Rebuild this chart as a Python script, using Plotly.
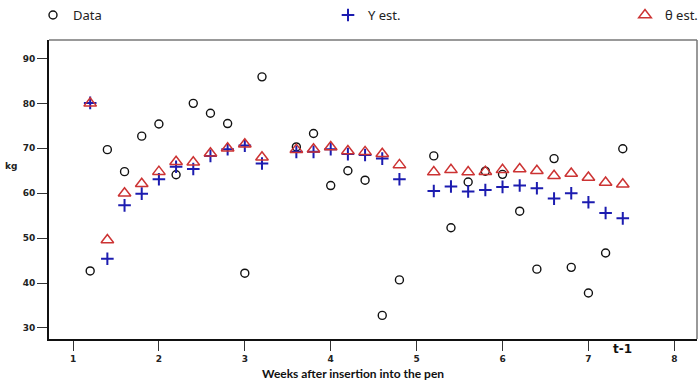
import plotly.graph_objects as go

weeks = [1.2, 1.4, 1.6, 1.8, 2.0, 2.2, 2.4, 2.6, 2.8, 3.0, 3.2,
         3.6, 3.8, 4.0, 4.2, 4.4, 4.6, 4.8,
         5.2, 5.4, 5.6, 5.8, 6.0, 6.2, 6.4, 6.6, 6.8, 7.0, 7.2, 7.4]

data_kg = [42.7, 69.7, 64.8, 72.7, 75.4, 64.1, 80.0, 77.8, 75.5, 42.2, 85.9,
           70.3, 73.3, 61.7, 65.0, 62.9, 32.8, 40.7,
           68.3, 52.3, 62.5, 64.9, 64.2, 56.0, 43.1, 67.7, 43.5, 37.8, 46.7, 69.9]

y_est = [80.1, 45.4, 57.3, 59.9, 63.1, 65.9, 65.4, 68.3, 69.8, 70.6, 66.6,
         69.2, 69.2, 69.8, 68.7, 68.5, 67.7, 63.1,
         60.5, 61.5, 60.4, 60.7, 61.4, 61.7, 61.1, 58.8, 60.0, 58.0, 55.6, 54.4]

theta_est = [80.0, 49.6, 60.0, 62.1, 64.8, 67.0, 66.9, 68.9, 70.0, 70.9, 68.0,
             69.7, 69.8, 70.3, 69.4, 69.2, 68.8, 66.3,
             64.7, 65.2, 64.7, 64.8, 65.2, 65.4, 65.0, 63.9, 64.4, 63.5, 62.4, 62.0]

x_ticks = [1, 2, 3, 4, 5, 6, 7, 8]
y_ticks = [30, 40, 50, 60, 70, 80, 90]

# plot area in pixels (for placing legends/annotations)
L, R, T, B = 49, 697, 40, 339
PW, PH = R - L, B - T


def px_x(p):
    return (p - L) / PW


def px_y(p):
    return (B - p) / PH


fig = go.Figure()
fig.add_trace(go.Scatter(
    x=weeks, y=data_kg, mode="markers", name="Data", legend="legend",
    marker=dict(symbol="circle-open", size=8, color="#111111", line=dict(width=1.4, color="#111111")),
))
fig.add_trace(go.Scatter(
    x=weeks, y=y_est, mode="markers", name="Y est.", legend="legend2",
    marker=dict(symbol="cross-thin-open", size=9, color="#1c1cb0", line=dict(width=2, color="#1c1cb0")),
))
fig.add_trace(go.Scatter(
    x=weeks, y=theta_est, mode="markers", name="θ est.", legend="legend3",
    marker=dict(symbol="triangle-up-open", size=11, color="#cc3333", line=dict(width=1.5, color="#cc3333")),
))

tick_font = dict(family="DejaVu Sans", size=9, color="#222222", weight="bold")
leg_font = dict(family="Noto Sans", size=13, color="#222222")


def leg(sym_px):
    return dict(
        orientation="h", x=px_x(sym_px - 20), y=px_y(15), xanchor="left", yanchor="middle",
        font=leg_font, bgcolor="rgba(0,0,0,0)", borderwidth=0, itemclick=False,
    )


fig.update_layout(
    width=699, height=381,
    margin=dict(l=L, r=699 - R, t=T, b=381 - B, pad=0, autoexpand=False),
    paper_bgcolor="white", plot_bgcolor="white",
    showlegend=True,
    legend=leg(53),
    legend2=leg(348),
    legend3=leg(645),
    xaxis=dict(
        range=[0.7206, 8.264], tickvals=x_ticks, ticktext=[str(v) for v in x_ticks],
        showgrid=False, zeroline=False,
        showline=True, linecolor="#111111", linewidth=2,
        ticks="outside", ticklen=10, tickwidth=1, tickcolor="#333333",
        tickfont=tick_font,
    ),
    yaxis=dict(
        range=[27.55, 94.1], tickvals=y_ticks, ticktext=[str(v) for v in y_ticks],
        showgrid=False, zeroline=False,
        showline=True, linecolor="#111111", linewidth=2,
        ticks="outside", ticklen=10, tickwidth=1, tickcolor="#333333",
        tickfont=tick_font,
    ),
    shapes=[
        dict(type="line", xref="paper", yref="paper", x0=0, x1=1, y0=1, y1=1,
             line=dict(color="#777777", width=1.5)),
        dict(type="line", xref="paper", yref="paper", x0=1, x1=1, y0=0, y1=1,
             line=dict(color="#777777", width=1.5)),
    ],
    annotations=[
        dict(text="Weeks after insertion into the pen", xref="paper", yref="paper",
             x=px_x(353), y=px_y(373), xanchor="center", yanchor="middle",
             showarrow=False, font=dict(family="Lato", size=12, color="#111111", weight="bold")),
        dict(text="kg", xref="paper", yref="paper",
             x=px_x(11), y=px_y(166), xanchor="center", yanchor="middle",
             showarrow=False, font=dict(family="DejaVu Sans", size=9, color="#222222", weight="bold")),
        dict(text="t-1", xref="x", yref="paper",
             x=7.4, y=px_y(349), xanchor="center", yanchor="middle",
             showarrow=False, font=dict(family="DejaVu Sans", size=12, color="#111111", weight="bold")),
    ],
)

fig.write_html("out.html", config={"displayModeBar": False},
               post_script="document.body.style.margin='0';")
